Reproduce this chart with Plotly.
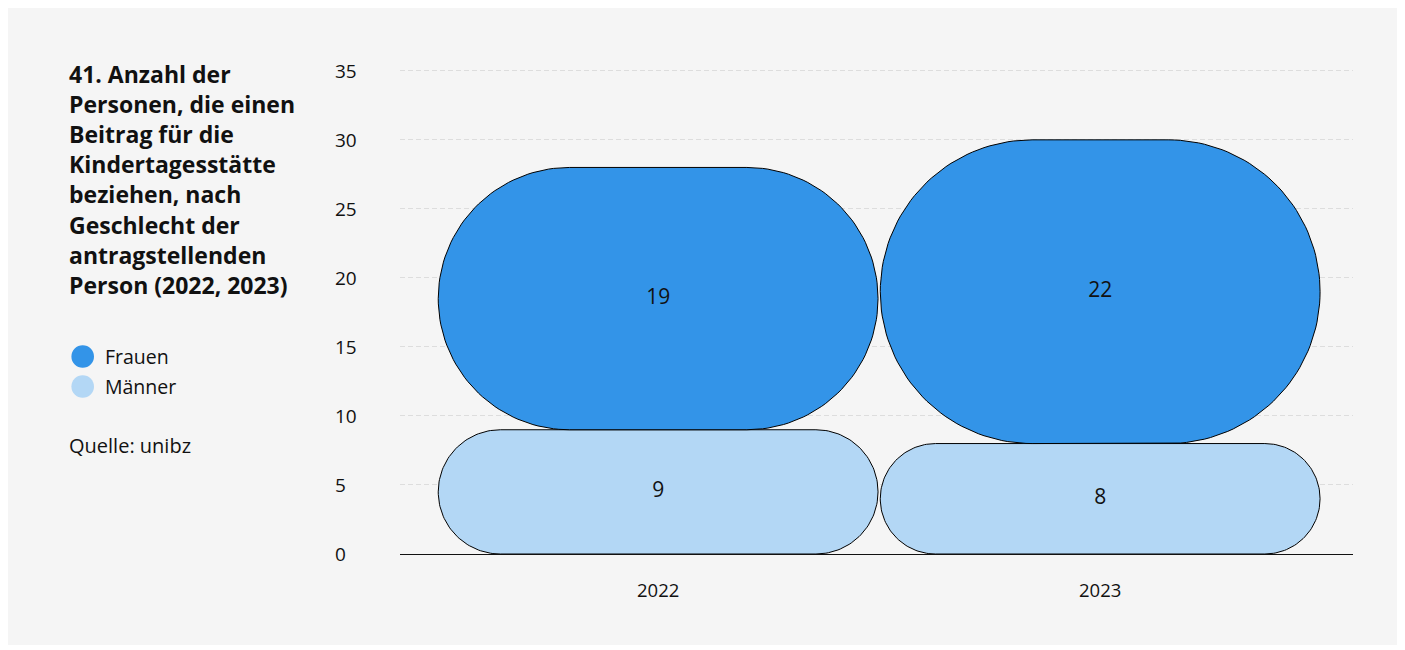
import numpy as np
import plotly.graph_objects as go

# ---------------- data ----------------
years = ["2022", "2023"]
maenner = [9, 8]
frauen = [19, 22]
series_names = ["Frauen", "Männer"]
y_ticks = [0, 5, 10, 15, 20, 25, 30, 35]
title_lines = [
    "41. Anzahl der",
    "Personen, die einen",
    "Beitrag für die",
    "Kindertagesstätte",
    "beziehen, nach",
    "Geschlecht der",
    "antragstellenden",
    "Person (2022, 2023)",
]
source_text = "Quelle: unibz"

# ---------------- styling / layout constants ----------------
OFF = 8  # page body margin
W, H = 1389, 637
M_L, M_R, M_T, M_B = 392, 44, 49, 91
PW = W - M_L - M_R
PH = H - M_T - M_B
X_RANGE = [-0.584, 1.572]
Y_RANGE = [0, 36]
BAR_W = 0.995
C_FRAUEN = "#3394e8"
C_MAENNER = "#b3d7f5"
TXT = "#111111"
FONT = "Open Sans"

px_x = PW / (X_RANGE[1] - X_RANGE[0])
px_y = PH / (Y_RANGE[1] - Y_RANGE[0])


def px_to_paper_x(px):
    # px given in page (reference) coordinates
    return (px - OFF - M_L) / PW


def px_to_paper_y(py):
    return (H - M_B - (py - OFF)) / PH


def stadium(xc, y0, y1, n=40):
    """Rounded (pill) outline in data coordinates, radius = half the shorter side in pixels."""
    w = BAR_W * px_x
    h = (y1 - y0) * px_y
    r = min(w, h) / 2.0
    cx = xc * px_x
    cy = (y0 + y1) / 2.0 * px_y
    corners = [
        (cx + w / 2 - r, cy + h / 2 - r, 0, 90),
        (cx - w / 2 + r, cy + h / 2 - r, 90, 180),
        (cx - w / 2 + r, cy - h / 2 + r, 180, 270),
        (cx + w / 2 - r, cy - h / 2 + r, 270, 360),
    ]
    xs, ys = [], []
    for ccx, ccy, a0, a1 in corners:
        t = np.radians(np.linspace(a0, a1, n))
        xs.extend((ccx + r * np.cos(t)) / px_x)
        ys.extend((ccy + r * np.sin(t)) / px_y)
    xs.append(xs[0])
    ys.append(ys[0])
    return xs, ys


fig = go.Figure()

# bars (Männer bottom, Frauen stacked on top)
for i, yr in enumerate(years):
    segs = [
        (0, maenner[i], C_MAENNER, "Männer", maenner[i]),
        (maenner[i], maenner[i] + frauen[i], C_FRAUEN, "Frauen", frauen[i]),
    ]
    for y0, y1, col, name, val in segs:
        xs, ys = stadium(i, y0, y1)
        fig.add_trace(go.Scatter(
            x=xs, y=ys, mode="lines", fill="toself", fillcolor=col,
            line=dict(color="#000000", width=1), name=name,
            showlegend=False, hoverinfo="skip"))
        fig.add_trace(go.Scatter(
            x=[i], y=[(y0 + y1) / 2], mode="text", text=[str(val)],
            textfont=dict(family=FONT, size=21, color=TXT),
            showlegend=False, hoverinfo="skip"))

shapes = []
annotations = []
# title
for k, line in enumerate(title_lines):
    annotations.append(dict(
        text=line, xref="paper", yref="paper",
        x=px_to_paper_x(67), y=px_to_paper_y(74 + k * 30.1),
        xanchor="left", yanchor="middle", showarrow=False,
        font=dict(family=FONT, size=23, color=TXT, weight=700)))

# legend
leg_colors = {"Frauen": C_FRAUEN, "Männer": C_MAENNER}
for k, name in enumerate(series_names):
    cy = 356.5 + k * 30
    shapes.append(dict(
        type="circle", xref="paper", yref="paper",
        xsizemode="pixel", ysizemode="pixel",
        xanchor=px_to_paper_x(82.7), yanchor=px_to_paper_y(cy),
        x0=-11.3, x1=11.3, y0=-11.3, y1=11.3,
        fillcolor=leg_colors[name], line=dict(width=0)))
    annotations.append(dict(
        text=name, xref="paper", yref="paper",
        x=px_to_paper_x(103), y=px_to_paper_y(cy),
        xanchor="left", yanchor="middle", showarrow=False,
        font=dict(family=FONT, size=19.5, color=TXT)))

annotations.append(dict(
    text=source_text, xref="paper", yref="paper",
    x=px_to_paper_x(67), y=px_to_paper_y(445),
    xanchor="left", yanchor="middle", showarrow=False,
    font=dict(family=FONT, size=20, color=TXT)))

# y tick labels (left aligned)
for t in y_ticks:
    annotations.append(dict(
        text=str(t), xref="paper", yref="y",
        x=px_to_paper_x(333), y=t,
        xanchor="left", yanchor="middle", showarrow=False,
        font=dict(family=FONT, size=19, color=TXT)))

fig.update_layout(
    width=W, height=H,
    margin=dict(l=M_L, r=M_R, t=M_T, b=M_B, pad=0),
    paper_bgcolor="#f5f5f5",
    plot_bgcolor="rgba(0,0,0,0)",
    showlegend=False,
    shapes=shapes,
    annotations=annotations,
    xaxis=dict(range=X_RANGE, tickmode="array", tickvals=[0, 1], ticktext=years,
               showgrid=False, zeroline=False, showline=True, linecolor="#111111",
               linewidth=1, ticks="", ticklabelstandoff=20,
               tickfont=dict(family=FONT, size=18.5, color=TXT), fixedrange=True),
    yaxis=dict(range=Y_RANGE, tickmode="array", tickvals=y_ticks, showticklabels=False,
               showgrid=True, gridcolor="#dddddd", griddash="5px,3px", gridwidth=1,
               zeroline=False, showline=False, fixedrange=True),
)

fig.write_html("out.html")
